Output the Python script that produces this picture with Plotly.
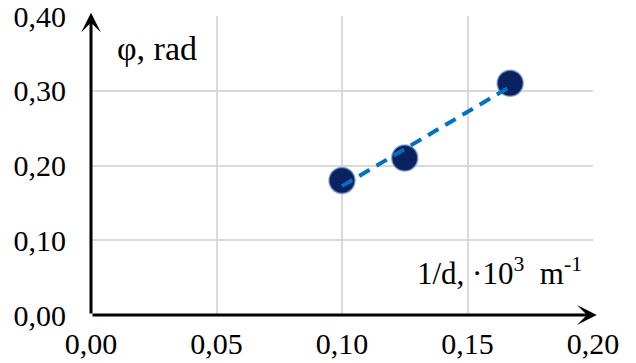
import numpy as np
import plotly.graph_objects as go

# Measured phase shift against inverse distance
inv_d = [0.100, 0.125, 0.167]      # 1/d, 10^3 m^-1
phi = [0.18, 0.21, 0.31]           # phi, rad

x_ticks = [0.00, 0.05, 0.10, 0.15, 0.20]
y_ticks = [0.00, 0.10, 0.20, 0.30, 0.40]

# Linear trend through the measurements
slope, intercept = np.polyfit(inv_d, phi, 1)
trend_x = [min(inv_d), max(inv_d)]
trend_y = [slope * v + intercept for v in trend_x]

FONT = "Liberation Serif"

fig = go.Figure()
fig.add_trace(go.Scatter(
    x=inv_d, y=phi, mode="markers",
    marker=dict(size=26, color="#0a2260",
                line=dict(color="rgba(110,150,205,0.75)", width=1.5)),
    showlegend=False, cliponaxis=False,
))
fig.add_trace(go.Scatter(
    x=trend_x, y=trend_y, mode="lines",
    line=dict(color="#0070C0", width=4, dash="12px,8px"),
    showlegend=False,
))

axis_common = dict(
    showgrid=True, gridcolor="#d9d9d9", gridwidth=1.5,
    zeroline=False, showline=False, ticks="",
    tickfont=dict(family=FONT, size=30, color="black"),
    tickformat=".2f", automargin=False, ticklabeloverflow="allow",
)
fig.update_xaxes(range=[0, 0.20], tickvals=x_ticks, ticklabelstandoff=8, **axis_common)
fig.update_yaxes(range=[0, 0.40], tickvals=y_ticks, ticklabelstandoff=24, **axis_common)

# Axes drawn as arrows
arrow = dict(xref="x", yref="y", axref="x", ayref="y", text="", showarrow=True,
             arrowhead=3, arrowsize=1.1, arrowwidth=3, arrowcolor="black")
fig.add_annotation(x=0.2015, y=0, ax=0, ay=0, **arrow)
fig.add_annotation(x=0, y=0.4045, ax=0, ay=0, **arrow)

# Axis titles
fig.add_annotation(x=0.0095, y=0.357, xref="x", yref="y", text="φ, rad",
                   showarrow=False, xanchor="left", yanchor="middle",
                   font=dict(family=FONT, size=34, color="black"))
fig.add_annotation(x=0.1965, y=0.058, xref="x", yref="y",
                   text="1/d, ·10<sup>3</sup>  m<sup>-1</sup>",
                   showarrow=False, xanchor="right", yanchor="middle",
                   font=dict(family=FONT, size=31, color="black"))

fig.update_layout(
    width=636, height=363,
    margin=dict(l=91, r=43, t=16, b=48),
    paper_bgcolor="white", plot_bgcolor="white",
    separators=", ",
    font=dict(family=FONT, color="black"),
)

fig.write_html("out.html")
